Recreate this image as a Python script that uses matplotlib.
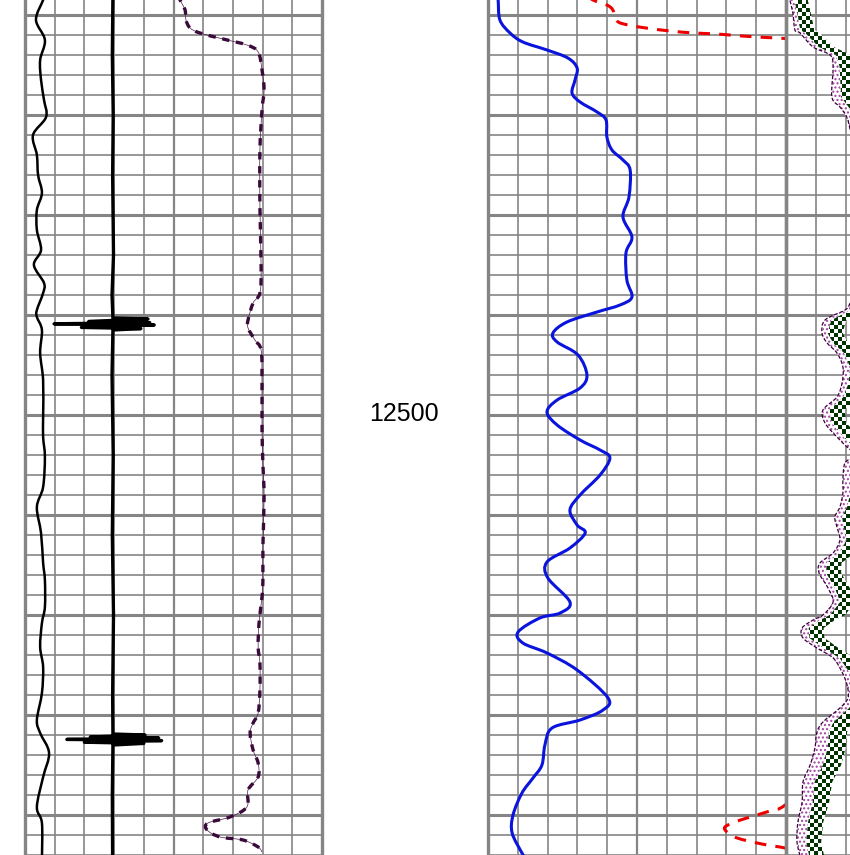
import numpy as np
import matplotlib
matplotlib.use("Agg")
import matplotlib.pyplot as plt
from matplotlib.colors import ListedColormap
from matplotlib.patches import Polygon, PathPatch
from matplotlib.path import Path

TOP, BASE = 12292.5, 12720.0
DEPTH_LABEL = "12500"

# track 1 (scale 0-100)
cal_depth = [12290, 12292.5, 12302.5, 12312.5, 12322.5, 12332.5, 12342.5, 12351, 12360, 12370,
             12380, 12389, 12397.5, 12407.5, 12417.5, 12425, 12434, 12439, 12447.5, 12451,
             12457.5, 12469, 12482.5, 12501, 12511, 12521, 12536, 12546, 12559, 12574,
             12582.5, 12596, 12604, 12616, 12626, 12639, 12652.5, 12659, 12669, 12681,
             12696, 12704, 12722]
cal = [6.4, 6.1, 3.7, 6.7, 5.1, 5.4, 6.4, 7.1, 2.7, 4.0,
       4.4, 5.7, 4.0, 4.0, 5.4, 3.0, 6.4, 6.1, 4.0, 4.0,
       5.7, 5.1, 6.1, 6.1, 6.1, 6.7, 6.1, 4.0, 5.4, 6.1,
       6.7, 6.7, 5.7, 5.1, 6.1, 5.7, 4.0, 5.1, 8.1, 6.1,
       4.0, 5.7, 5.7]

sp_depth = [12290, 12320, 12350, 12380, 12420, 12440,
            12451.5, 12452, 12453.2, 12453.8, 12454.4, 12455, 12456.2, 12456.8, 12457.5,
            12480, 12520, 12560, 12600, 12640,
            12659.5, 12660, 12661, 12661.5, 12662.2, 12662.8, 12663.6, 12664.2, 12665,
            12690, 12722]
sp = [29.6, 29.4, 29.7, 29.5, 29.8, 29.3,
      29.6, 41.4, 21.5, 42.0, 9.8, 43.5, 19.0, 39.0, 29.6,
      29.3, 29.7, 29.4, 29.8, 29.5,
      29.6, 40.4, 22.0, 45.0, 14.1, 46.0, 20.0, 40.0, 29.6,
      29.4, 29.5]

gr_depth = [12290, 12292.5, 12297.5, 12302.5, 12306.5, 12309, 12312, 12315, 12318.5, 12327.5,
            12337.5, 12347.5, 12367.5, 12396, 12426, 12439, 12444, 12452.5, 12456.5, 12462.5,
            12467.5, 12482.5, 12507.5, 12524, 12541, 12566, 12582.5, 12591, 12604, 12616,
            12624, 12637.5, 12649, 12654, 12659, 12667.5, 12674, 12681, 12687.5, 12696,
            12701, 12704, 12707.5, 12711, 12712.5, 12716, 12718.5]
gr = [51.5, 52.2, 53.9, 54.2, 55.6, 58.9, 66.7, 74.7, 78.5, 79.8,
      80.5, 79.8, 79.1, 79.1, 79.5, 79.1, 76.8, 75.1, 75.1, 77.4,
      79.5, 79.8, 79.8, 80.1, 80.5, 80.1, 80.1, 79.8, 78.8, 78.5,
      79.1, 79.1, 78.5, 76.8, 75.8, 76.8, 78.5, 78.5, 75.1, 74.7,
      69.0, 61.6, 61.3, 65.7, 73.4, 78.5, 79.8]

# track 2 (scale 0-100)
res_depth = [12290, 12292.5, 12302.5, 12309, 12313.5, 12317.5, 12321.5, 12326.5, 12332.5, 12339,
             12343.5, 12348.5, 12352.5, 12361, 12367.5, 12372.5, 12377.5, 12391, 12401, 12411,
             12419, 12432.5, 12441, 12445, 12448.5, 12453.5, 12459, 12463.5, 12470, 12480,
             12486.5, 12492.5, 12498.5, 12505, 12512.5, 12517.5, 12521.5, 12530, 12540, 12547.5,
             12555, 12559, 12566.5, 12573.5, 12581.5, 12593.5, 12599, 12601.5, 12608.5, 12614,
             12619, 12627.5, 12641.5, 12647.5, 12652.5, 12656.5, 12665, 12675, 12681.5, 12689,
             12700, 12709, 12719, 12722]
res = [3.0, 3.4, 4.0, 7.4, 11.7, 19.8, 26.8, 29.9, 29.2, 28.2,
       30.9, 36.6, 39.6, 39.9, 41.6, 45.3, 47.7, 47.3, 45.3, 48.3,
       46.3, 46.6, 48.3, 44.3, 36.6, 26.5, 21.8, 23.2, 30.2, 33.2,
       30.9, 23.2, 19.8, 23.2, 30.9, 37.6, 40.9, 37.6, 30.9, 27.5,
       29.9, 32.6, 27.5, 19.8, 20.1, 27.5, 24.2, 17.4, 10.1, 11.7,
       19.8, 29.9, 40.3, 38.6, 30.9, 21.5, 19.1, 18.1, 15.1, 11.4,
       8.4, 8.1, 11.4, 12.6]

dt_depth = [12290, 12292.5, 12295, 12297.5, 12303, 12305, 12306.5, 12308, 12309, 12309.5,
            12310.5, 12311.25, 12311.75, 12313, 12330, 12680, 12695, 12698, 12701.5, 12703.5,
            12706, 12708.5, 12711.5, 12714.5, 12716.5, 12719]
dt = [33.5, 35.2, 39.9, 41.9, 43.3, 47.0, 53.0, 61.1, 69.1, 76.8,
      85.2, 93.3, 99.7, 104, 110, 110, 99.7, 94.6, 86.9, 82.9,
      79.5, 80.2, 83.6, 91.9, 99.7, 106]

# track 3 (scale 0-100): outline, stipple/checker boundary, checker edge
t3_depth = [12290, 12292.5, 12299, 12307.5, 12309, 12316, 12320, 12326, 12341, 12346,
            12351.5, 12362.5, 12392.5, 12432.5, 12444, 12447.5, 12452.5, 12459, 12464, 12469,
            12476, 12484, 12491, 12497.5, 12504, 12511, 12516, 12520, 12524, 12532.5,
            12539, 12546, 12551, 12556, 12562.5, 12569, 12574, 12579, 12586.5, 12593.5,
            12600, 12602.5, 12606.5, 12611.5, 12616.5, 12621.5, 12628.5, 12635, 12641.5, 12646.5,
            12653.5, 12658.5, 12666.5, 12675, 12683.5, 12693.5, 12703.5, 12713.5, 12722]
t3_a = [1.0, 1.3, 2.3, 3.0, 4.7, 9.1, 14.8, 15.8, 15.4, 18.1,
        20.5, 22.1, 24.8, 24.2, 21.5, 19.8, 13.1, 12.1, 13.8, 17.1,
        19.1, 18.8, 17.1, 12.4, 13.1, 17.1, 20.5, 23.2, 19.8, 19.1,
        19.1, 18.1, 16.4, 17.1, 18.1, 15.8, 11.4, 11.1, 14.1, 15.8,
        12.4, 9.1, 5.4, 5.7, 10.4, 15.8, 18.8, 20.5, 20.8, 18.1,
        12.4, 10.4, 9.7, 8.1, 5.7, 5.4, 4.0, 3.7, 5.0]
t3_b = [2.5, 2.8, 3.8, 4.8, 6.5, 11.0, 16.8, 18.0, 18.5, 21.0,
        23.2, 25.0, 27.5, 27.0, 24.0, 22.0, 15.2, 14.0, 15.8, 19.5,
        21.5, 21.0, 19.3, 14.6, 15.3, 19.4, 22.8, 25.5, 22.0, 21.5,
        21.6, 20.5, 18.8, 19.4, 20.3, 18.0, 13.6, 13.5, 16.4, 18.2,
        14.8, 11.4, 7.6, 7.9, 12.6, 18.0, 21.2, 23.0, 23.4, 21.2,
        16.0, 14.4, 14.0, 12.4, 9.6, 9.0, 7.4, 6.8, 8.0]
t3_c = [7.0, 7.3, 8.3, 9.5, 11.3, 16.0, 21.8, 23.1, 23.5, 26.0,
        28.2, 30.0, 32.5, 32.0, 29.0, 27.0, 20.2, 19.0, 20.8, 24.5,
        26.5, 26.0, 24.3, 19.6, 20.3, 24.4, 27.8, 30.5, 27.0, 26.5,
        26.6, 25.5, 23.8, 24.4, 25.3, 23.0, 18.6, 18.5, 21.4, 23.2,
        19.8, 16.4, 12.6, 12.9, 17.6, 23.0, 26.2, 28.0, 28.4, 26.7,
        22.0, 20.5, 20.0, 18.5, 15.5, 14.5, 12.5, 11.8, 13.0]

W, H = 850, 855
GRID = "#858585"

fig = plt.figure(figsize=(W / 100, H / 100), dpi=100)


def make_track(x0, width):
    ax = fig.add_axes([x0 / W, 0, width / W, 1])
    ax.set_xlim(0, 100)
    ax.set_ylim(BASE, TOP)
    ax.axis("off")
    for d in np.arange(12300, 12721, 10):
        ax.axhline(d, color=GRID, lw=2.2 if d % 50 == 0 else 1.2, zorder=1)
    for x in range(0, 101, 10):
        lw = 2.4 if x in (0, 100) else (1.6 if x == 50 else 1.2)
        ax.axvline(x, color=GRID, lw=lw, zorder=1, clip_on=False)
    return ax


def smooth_curve(ax, xs, ys, **kw):
    # catmull-rom through the read points, drawn as bezier segments
    p = np.column_stack([xs, ys]).astype(float)
    verts = [p[0]]
    codes = [Path.MOVETO]
    n = len(p)
    for i in range(n - 1):
        p0 = p[max(i - 1, 0)]
        p3 = p[min(i + 2, n - 1)]
        c1 = p[i] + (p[i + 1] - p0) / 6
        c2 = p[i + 1] - (p3 - p[i]) / 6
        verts += [c1, c2, p[i + 1]]
        codes += [Path.CURVE4] * 3
    patch = PathPatch(Path(verts, codes), fill=False, capstyle="butt", **kw)
    ax.add_patch(patch)
    return patch


ax1 = make_track(25, 297)
ax2 = make_track(488, 298)
ax3 = make_track(786, 298)

# track 1
smooth_curve(ax1, cal, cal_depth, edgecolor="black", lw=1.8, zorder=3)
ax1.plot(sp, sp_depth, color="black", lw=2.4, zorder=3)
smooth_curve(ax1, gr, gr_depth, edgecolor="#4a1a4a", lw=0.5, zorder=3)
smooth_curve(ax1, gr, gr_depth, edgecolor="#3a0a3a", lw=2.4,
             linestyle=(0, (2.2, 2.0)), zorder=3)

# track 2
smooth_curve(ax2, res, res_depth, edgecolor="#0a14dc", lw=2.2, zorder=3)
smooth_curve(ax2, dt, dt_depth, edgecolor="#ee0000", lw=2.2,
             linestyle=(0, (3.8, 3.0)), zorder=3)

# track 3: stipple band + checkered band
ax3.fill_betweenx(t3_depth, t3_a, t3_b, facecolor="white", edgecolor="#a040a0",
                  hatch="....", linewidth=0, zorder=2)
verts = list(zip(t3_b, t3_depth)) + list(zip(t3_c[::-1], t3_depth[::-1]))
band = Polygon(verts, closed=True, facecolor="none", edgecolor="none")
ax3.add_patch(band)
nrows, ncols = int((BASE - TOP) / 2), 75
ii, jj = np.indices((nrows, ncols))
checker = (ii + jj) % 2
im = ax3.imshow(checker, cmap=ListedColormap(["white", "#003300"]), aspect="auto",
                interpolation="nearest", extent=(0, 100, BASE, TOP), zorder=2)
im.set_clip_path(band)
smooth_curve(ax3, t3_a, t3_depth, edgecolor="#3a003a", lw=0.9,
             linestyle=(0, (3, 1.5)), zorder=3)
ax3.set_xlim(0, 100)
ax3.set_ylim(BASE, TOP)

fig.text(404 / W, 1 - 414 / H, DEPTH_LABEL, fontsize=18, family="Liberation Sans",
         ha="center", va="center")

fig.savefig("out.png", dpi=100)
